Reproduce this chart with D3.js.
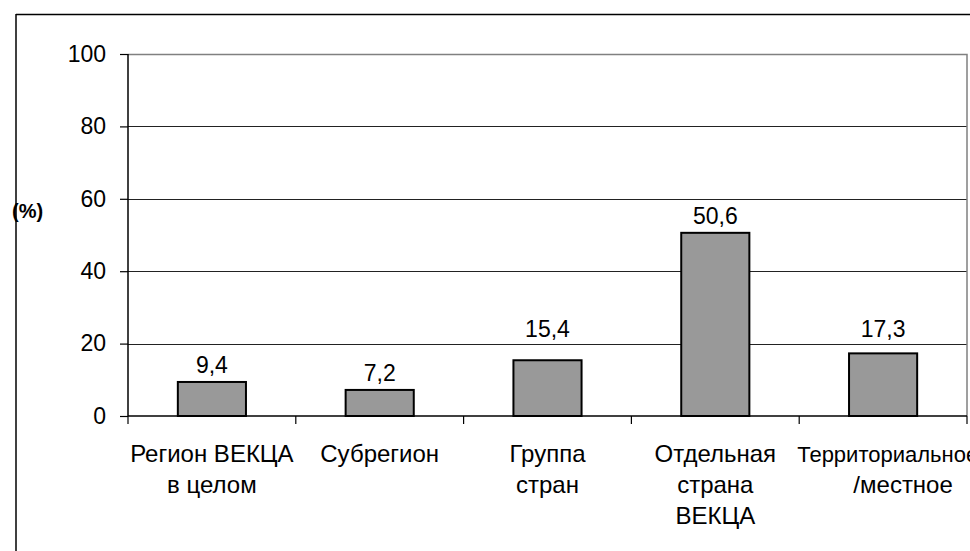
<!DOCTYPE html>
<html>
<head>
<meta charset="utf-8">
<script src="https://cdn.jsdelivr.net/npm/d3@7"></script>
<style>
  body { margin: 0; background: #fff; }
  svg { display: block; font-family: "Liberation Sans", Arial, sans-serif; }
</style>
</head>
<body>
<div id="chart"></div>
<script>
var categories = ["region", "subregion", "group", "country", "local"]
var values = [9.4, 7.2, 15.4, 50.6, 17.3]
var valueLabels = ["9,4", "7,2", "15,4", "50,6", "17,3"]
var categoryLines = [
  ["Регион ВЕКЦА", "в целом"],
  ["Субрегион"],
  ["Группа", "стран"],
  ["Отдельная", "страна", "ВЕКЦА"],
  ["Территориальное", "/местное"]
]
var yTicks = [0, 20, 40, 60, 80, 100]

var width = 970
var height = 551
var margin = {top: 54, right: 3, bottom: 135, left: 128}

var svg = d3.select("#chart")
  .append("svg")
  .attr("width", width)
  .attr("height", height)

// outer frame (only top and left visible)
svg.append("line").attr("x1", 16).attr("x2", width).attr("y1", 14.5).attr("y2", 14.5)
  .attr("stroke", "#000").attr("stroke-width", 1.5)
svg.append("line").attr("x1", 16).attr("x2", 16).attr("y1", 14).attr("y2", height)
  .attr("stroke", "#000").attr("stroke-width", 1.5)

var x = d3.scaleBand()
  .domain(categories)
  .range([margin.left, width - margin.right])
  .paddingInner(0)
  .paddingOuter(0)

var y = d3.scaleLinear()
  .domain([0, 100])
  .range([height - margin.bottom, margin.top])

var g = svg.append("g")

var gridVals = yTicks.filter(function(d) { return d > 0 && d < 100 })

// gridlines
g.selectAll(".grid")
  .data(gridVals)
  .enter().append("line")
    .attr("x1", margin.left)
    .attr("x2", width - margin.right)
    .attr("y1", function(d) { return Math.round(y(d)) + 0.5 })
    .attr("y2", function(d) { return Math.round(y(d)) + 0.5 })
    .attr("stroke", "#222")
    .attr("stroke-width", 1)

// plot area border top + right in grey
g.append("polyline")
  .attr("points", [[margin.left, Math.round(y(100)) + 0.5], [width - margin.right, Math.round(y(100)) + 0.5],
    [width - margin.right, y(0)]].join(" "))
  .attr("fill", "none")
  .attr("stroke", "#808080")
  .attr("stroke-width", 1.5)

// bars
g.selectAll(".bar")
  .data(values)
  .enter().append("rect")
    .attr("x", function(d, i) { return x(categories[i]) + x.bandwidth() * 0.297 })
    .attr("width", x.bandwidth() * 0.406)
    .attr("y", function(d) { return y(d) })
    .attr("height", function(d) { return y(0) - y(d) })
    .attr("fill", "#999999")
    .attr("stroke", "#000")
    .attr("stroke-width", 2)

// value labels, lifted above a gridline if they would cross it
function labelY(v) {
  var base = y(v) - 9
  gridVals.forEach(function(gv) {
    var gy = y(gv)
    if (gy > base - 17 && gy < base + 3) base = gy - 7
  })
  return base
}
g.selectAll(".val")
  .data(values)
  .enter().append("text")
    .attr("x", function(d, i) { return x(categories[i]) + x.bandwidth() / 2 })
    .attr("y", function(d) { return labelY(d) })
    .attr("text-anchor", "middle")
    .attr("font-size", "23px")
    .text(function(d, i) { return valueLabels[i] })

// y axis
var yAxis = g.append("g")
  .attr("transform", "translate(" + margin.left + ",0)")
  .call(d3.axisLeft(y).tickValues(yTicks).tickSize(8).tickPadding(14))
yAxis.select(".domain").attr("stroke-width", 1.5).attr("d", "M0," + y(100) + "V" + y(0))
yAxis.selectAll(".tick line").attr("stroke-width", 1.2)
yAxis.selectAll("text").attr("font-size", "23px").attr("font-family", "Liberation Sans, Arial, sans-serif").attr("fill", "#000")

// x axis
var xAxis = g.append("g")
  .attr("transform", "translate(0," + y(0) + ")")
xAxis.append("line")
  .attr("x1", margin.left).attr("x2", width - margin.right)
  .attr("y1", 0).attr("y2", 0)
  .attr("stroke", "#000").attr("stroke-width", 1.5)
xAxis.selectAll(".xt")
  .data(categories.concat(["end"]))
  .enter().append("line")
    .attr("x1", function(d, i) { return i < categories.length ? x(d) : width - margin.right })
    .attr("x2", function(d, i) { return i < categories.length ? x(d) : width - margin.right })
    .attr("y1", 0).attr("y2", 8)
    .attr("stroke", "#000").attr("stroke-width", 1.2)

// category labels
var lab = xAxis.selectAll(".cat")
  .data(categoryLines)
  .enter().append("text")
    .attr("text-anchor", "middle")
    .attr("font-size", "24px")
lab.each(function(lines, i) {
  var t = d3.select(this)
  var cx = x(categories[i]) + x.bandwidth() / 2
  lines.forEach(function(line, j) {
    var ts = t.append("tspan")
      .attr("x", cx)
      .attr("y", 46 + j * 31)
      .text(line)
    if (i === categories.length - 1 && j === 0) {
      ts.attr("text-anchor", "start").attr("x", x(categories[i]) - 2).attr("font-size", "22px")
    }
    if (i === categories.length - 1 && j === 1) {
      ts.attr("x", cx + 20)
    }
  })
})

// axis title
svg.append("text")
  .attr("x", 12)
  .attr("y", 218)
  .attr("font-size", "20px")
  .attr("font-weight", "bold")
  .text("(%)")
</script>
</body>
</html>
